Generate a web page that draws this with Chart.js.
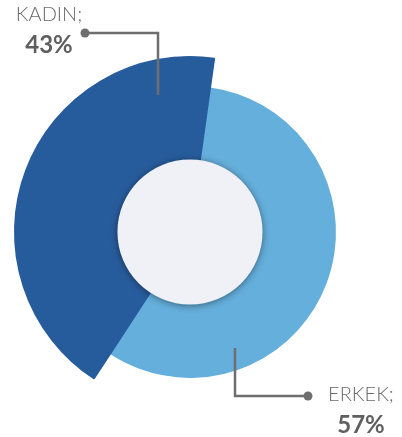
<!DOCTYPE html>
<html>
<head>
<meta charset="utf-8">
<script src="https://cdn.jsdelivr.net/npm/chart.js@4"></script>
<style>
  html, body { margin: 0; padding: 0; background: #fff; }
  #wrap { width: 402px; height: 437px; }
</style>
</head>
<body>
<div id="wrap"><canvas id="grafik"></canvas></div>
<script>
// veriler
const kategoriler = ['ERKEK', 'KADIN'];
const degerler = [57, 43];
const renkler = ['#65afdc', '#275c9c'];
// dış halka sadece KADIN dilimini büyütmek için
const disRenkler = ['rgba(0,0,0,0)', '#275c9c'];

const toplam = degerler.reduce((a, b) => a + b, 0);
const yuzde = degerler.map(v => Math.round(v / toplam * 100) + '%');

// ortadaki daire ve etiket çizgileri
const etiketEklentisi = {
  id: 'etiketler',
  afterDatasetsDraw(chart) {
    const ctx = chart.ctx;
    const arc = chart.getDatasetMeta(1).data[0];
    const cx = arc.x, cy = arc.y, ic = arc.innerRadius;

    ctx.save();
    ctx.shadowColor = 'rgba(0,0,0,0.45)';
    ctx.shadowBlur = 7;
    ctx.shadowOffsetY = 1;
    ctx.fillStyle = '#eff1f6';
    ctx.beginPath();
    ctx.arc(cx, cy, ic, 0, Math.PI * 2);
    ctx.fill();
    ctx.restore();

    const cizgi = (pts, nokta) => {
      ctx.save();
      ctx.strokeStyle = '#6e6e6e';
      ctx.lineWidth = 2.5;
      ctx.beginPath();
      ctx.moveTo(cx + pts[0][0], cy + pts[0][1]);
      for (let i = 1; i < pts.length; i++) ctx.lineTo(cx + pts[i][0], cy + pts[i][1]);
      ctx.stroke();
      ctx.fillStyle = '#6e6e6e';
      ctx.beginPath();
      ctx.arc(cx + nokta[0], cy + nokta[1], 4.5, 0, Math.PI * 2);
      ctx.fill();
      ctx.restore();
    };
    const yazi = (x, y, ad, oran) => {
      ctx.save();
      ctx.textAlign = 'center';
      ctx.textBaseline = 'alphabetic';
      ctx.fillStyle = '#6a6a6a';
      ctx.font = '300 20px Lato';
      ctx.fillText(ad + ';', cx + x, cy + y);
      ctx.fillStyle = '#5f5f5f';
      ctx.font = 'bold 24px Lato';
      ctx.fillText(oran, cx + x, cy + y + 32);
      ctx.restore();
    };

    // KADIN
    cizgi([[-105, -199], [-32, -199], [-32, -137]], [-105, -199]);
    yazi(-141, -211, kategoriler[1], yuzde[1]);
    // ERKEK
    cizgi([[45, 116], [45, 164], [118, 164]], [118, 164]);
    yazi(171, 169, kategoriler[0], yuzde[0]);
  }
};

new Chart(document.getElementById('grafik'), {
  type: 'doughnut',
  data: {
    labels: kategoriler,
    datasets: [
      { data: degerler, backgroundColor: disRenkler, borderColor: disRenkler, borderWidth: 1.5, weight: 30 },
      { data: degerler, backgroundColor: renkler, borderColor: renkler, borderWidth: 1.5, weight: 72.5 }
    ]
  },
  options: {
    responsive: true,
    maintainAspectRatio: false,
    animation: false,
    rotation: 8,
    cutout: '41.4%',
    layout: { padding: { left: 14, right: 36, top: 56, bottom: 29 } },
    plugins: {
      legend: { display: false },
      tooltip: { enabled: false }
    },
    events: []
  },
  plugins: [etiketEklentisi]
});
</script>
</body>
</html>
